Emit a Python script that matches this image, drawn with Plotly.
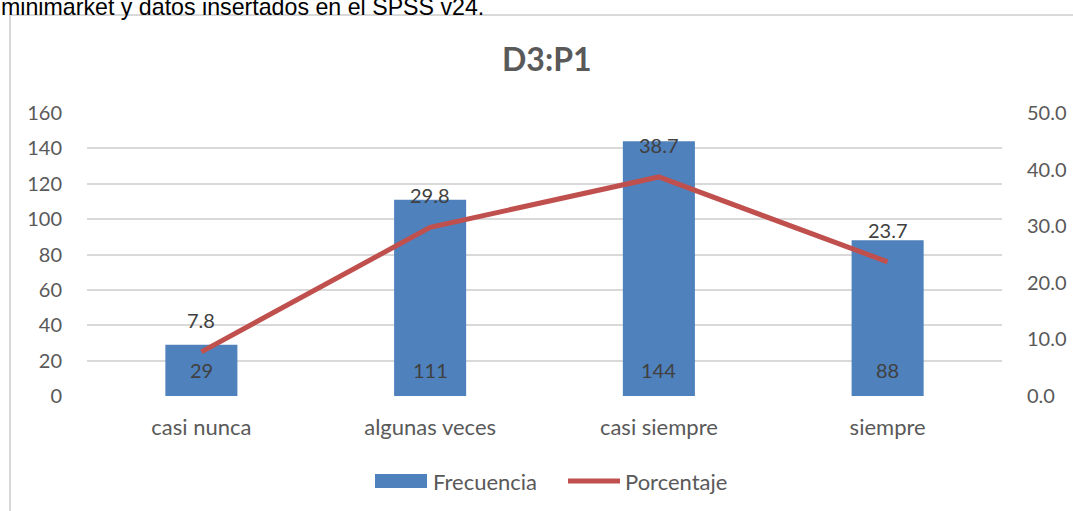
import plotly.graph_objects as go

categories = ["casi nunca", "algunas veces", "casi siempre", "siempre"]
frecuencia = [29, 111, 144, 88]
porcentaje = [7.8, 29.8, 38.7, 23.7]
left_ticks = [0, 20, 40, 60, 80, 100, 120, 140, 160]
right_ticks = [0, 10, 20, 30, 40, 50]

W, H = 1073, 511
L, R, T, B = 87, 1002, 113, 396
pw, ph = R - L, B - T


def px(x):
    return (x - L) / pw


def py(y):
    return (B - y) / ph


FONT = "Lato"
TXT = "#595959"
LBL = "#404040"
BAR = "#4F81BD"
LINE = "#C0504D"

fig = go.Figure()
fig.add_trace(go.Bar(
    x=categories, y=frecuencia, name="Frecuencia",
    marker=dict(color=BAR, line=dict(width=0)),
    yaxis="y", showlegend=False, hoverinfo="skip",
))
fig.add_trace(go.Scatter(
    x=categories, y=porcentaje, name="Porcentaje", mode="lines",
    line=dict(color=LINE, width=5),
    yaxis="y2", cliponaxis=False, showlegend=False, hoverinfo="skip",
))

annotations = [
    dict(text="<b>D3:P1</b>", xref="paper", yref="paper", x=px(547), y=py(59),
         xanchor="center", yanchor="middle", showarrow=False,
         font=dict(size=32, color=TXT, family=FONT)),
    dict(text="minimarket y datos insertados en el SPSS v24.", xref="paper", yref="paper",
         x=px(-1), y=py(22), xanchor="left", yanchor="bottom", showarrow=False,
         font=dict(size=23.2, color="black", family="Liberation Sans")),
    dict(text="Frecuencia", xref="paper", yref="paper", x=px(431), y=py(481),
         xanchor="left", yanchor="middle", showarrow=False,
         font=dict(size=22, color=TXT, family=FONT)),
    dict(text="Porcentaje", xref="paper", yref="paper", x=px(623), y=py(481),
         xanchor="left", yanchor="middle", showarrow=False,
         font=dict(size=22, color=TXT, family=FONT)),
]
for c, v in zip(categories, frecuencia):
    annotations.append(dict(text=str(v), x=c, y=0, xref="x", yref="y",
                            yanchor="middle", yshift=26, showarrow=False,
                            font=dict(size=20, color=LBL, family=FONT)))
for c, v in zip(categories, porcentaje):
    annotations.append(dict(text=f"{v:.1f}", x=c, y=v, xref="x", yref="y2",
                            yanchor="middle", yshift=32, showarrow=False,
                            font=dict(size=20, color=LBL, family=FONT)))

fig.update_layout(
    width=W, height=H,
    margin=dict(l=L, r=W - R, t=T, b=H - B, autoexpand=False),
    paper_bgcolor="white", plot_bgcolor="white",
    font=dict(family=FONT, color=TXT, size=20),
    bargap=0.685,
    showlegend=False,
    hovermode=False,
    xaxis=dict(showgrid=False, showline=False, ticks="", ticklabelstandoff=16,
               tickfont=dict(size=22, color=TXT)),
    yaxis=dict(range=[0, 160], tickvals=left_ticks, showgrid=True, gridcolor="#D9D9D9",
               gridwidth=1.5, zeroline=False, showline=False, ticklabelstandoff=24,
               tickfont=dict(size=20, color=TXT)),
    yaxis2=dict(range=[0, 50], tickvals=right_ticks, ticktext=[f"{v:.1f}" for v in right_ticks],
                overlaying="y", side="right", showgrid=False, zeroline=False, showline=False,
                ticklabelstandoff=24, tickfont=dict(size=20, color=TXT)),
    shapes=[
        dict(type="rect", xref="paper", yref="paper",
             x0=px(10), x1=px(1090), y0=py(15), y1=py(530),
             line=dict(color="#D9D9D9", width=2), fillcolor="rgba(0,0,0,0)", layer="below"),
        dict(type="rect", xref="paper", yref="paper",
             x0=px(375), x1=px(427), y0=py(488), y1=py(474),
             line=dict(width=0), fillcolor=BAR),
        dict(type="line", xref="paper", yref="paper",
             x0=px(568), x1=px(620), y0=py(481), y1=py(481),
             line=dict(color=LINE, width=5)),
    ],
    annotations=annotations,
)

fig.write_html("out.html", config={"displayModeBar": False},
               post_script="document.body.style.margin='0';")
